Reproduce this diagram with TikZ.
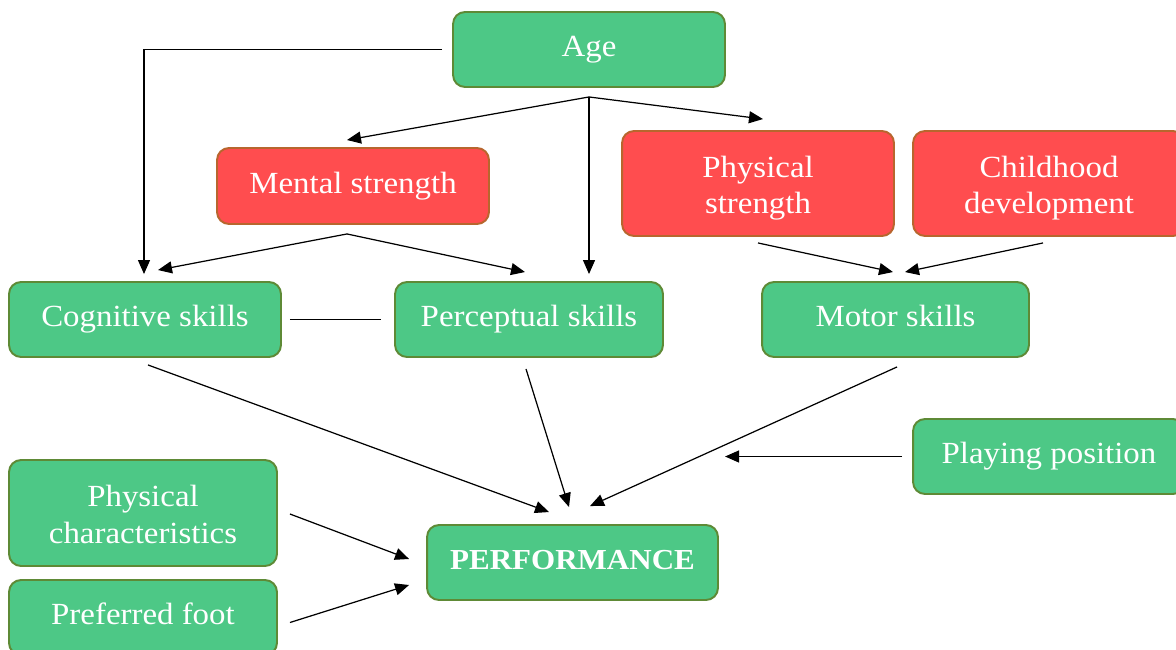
\documentclass[tikz,border=0pt]{standalone}
\usepackage{fontspec}
\setmainfont{Liberation Serif}[FakeStretch=1.07]
\usetikzlibrary{arrows.meta,calc}

\definecolor{boxgreen}{HTML}{4DC886}
\definecolor{greenline}{HTML}{5E8A36}
\definecolor{boxred}{HTML}{FF4D4F}
\definecolor{redline}{HTML}{B8662E}

\tikzset{
  box/.style={rounded corners=0.24cm, line width=1.1pt, text=white,
    align=center, inner sep=0pt, minimum width=5.44cm, minimum height=1.5cm,
    text height=12pt, text depth=4pt,
    font=\fontsize{17.5}{21}\selectfont},
  % two-line labels: box measured from the last baseline
  twoline/.style={text height=34.6pt, text depth=0pt},
  gbox/.style={box, fill=boxgreen, draw=greenline},
  rbox/.style={box, fill=boxred, draw=redline},
  link/.style={line width=0.7pt, black},
  arr/.style={link, -{Triangle[length=0.28cm, width=0.24cm]}}
}

\begin{document}
\begin{tikzpicture}[x=0.02cm, y=-0.02cm]
\clip (0,0) rectangle (1176,649);
\fill[white] (0,0) rectangle (1176,649);

% boxes
\node[gbox] (age) at (589,49.5) {Age};
\node[rbox, minimum height=1.52cm] (ms) at (353,186) {Mental strength};
\node[rbox, twoline, minimum height=2.1cm] (ps) at (758,183.5) {Physical\\strength};
\node[rbox, twoline, minimum height=2.1cm] (cd) at (1049,183.5) {Childhood\\development};
\node[gbox] (cog) at (145,319.5) {Cognitive skills};
\node[gbox, minimum width=5.36cm] (per) at (529,319.5) {Perceptual skills};
\node[gbox, minimum width=5.34cm] (mot) at (895.5,319.5) {Motor skills};
\node[gbox] (pp) at (1049,456.5) {Playing position};
\node[gbox, twoline, minimum width=5.36cm, minimum height=2.12cm] (pc) at (143,513) {Physical\\characteristics};
\node[gbox, minimum width=5.36cm] (pf) at (143,617.5) {Preferred foot};
\node[gbox, minimum width=5.82cm, font=\fontsize{16.5}{21}\selectfont\bfseries] (perf) at (572.5,562.5) {PERFORMANCE};

% branch points
\coordinate (j) at ($(age.south)+(0,9)$);
\coordinate (k) at ($(ms.south)+(-6,9)$);
\coordinate (ppend) at ($(pp.west)+(-187,0)$);

% connectors
\draw[arr] ($(age.west)+(-10,0)$) -| ($(cog.north)+(-1,-7)$);
\draw[arr] (j) -- ($(ms.north)+(-6,-7)$);
\draw[arr] (j) -- ($(per.north)+(60,-7)$);
\draw[arr] (j) -- ($(ps.north)+(5,-11)$);
\draw[arr] (k) -- ($(cog.north)+(13,-11)$);
\draw[arr] (k) -- ($(per.north)+(-4,-9)$);
\draw[link] ($(cog.east)+(8,0)$) -- ($(per.west)+(-13,0)$);
\draw[arr] ($(ps.south)+(0,6)$) -- ($(mot.north)+(-2.5,-9)$);
\draw[arr] ($(cd.south)+(-6,6)$) -- ($(mot.north)+(9.5,-9)$);
\draw[arr] ($(cog.south)+(3,7)$) -- ($(perf.north)+(-23.5,-12)$);
\draw[arr] ($(per.south)+(-3,11)$) -- ($(perf.north)+(-3.5,-17)$);
\draw[arr] ($(mot.south)+(1.5,9)$) -- ($(perf.north)+(17.5,-18)$);
\draw[arr] ($(pp.west)+(-10,0)$) -- (ppend);
\draw[arr] ($(pc.east)+(12,1)$) -- ($(perf.west)+(-17,-3.5)$);
\draw[arr] ($(pf.east)+(12,5)$) -- ($(perf.west)+(-17,22.5)$);
\end{tikzpicture}
\end{document}
